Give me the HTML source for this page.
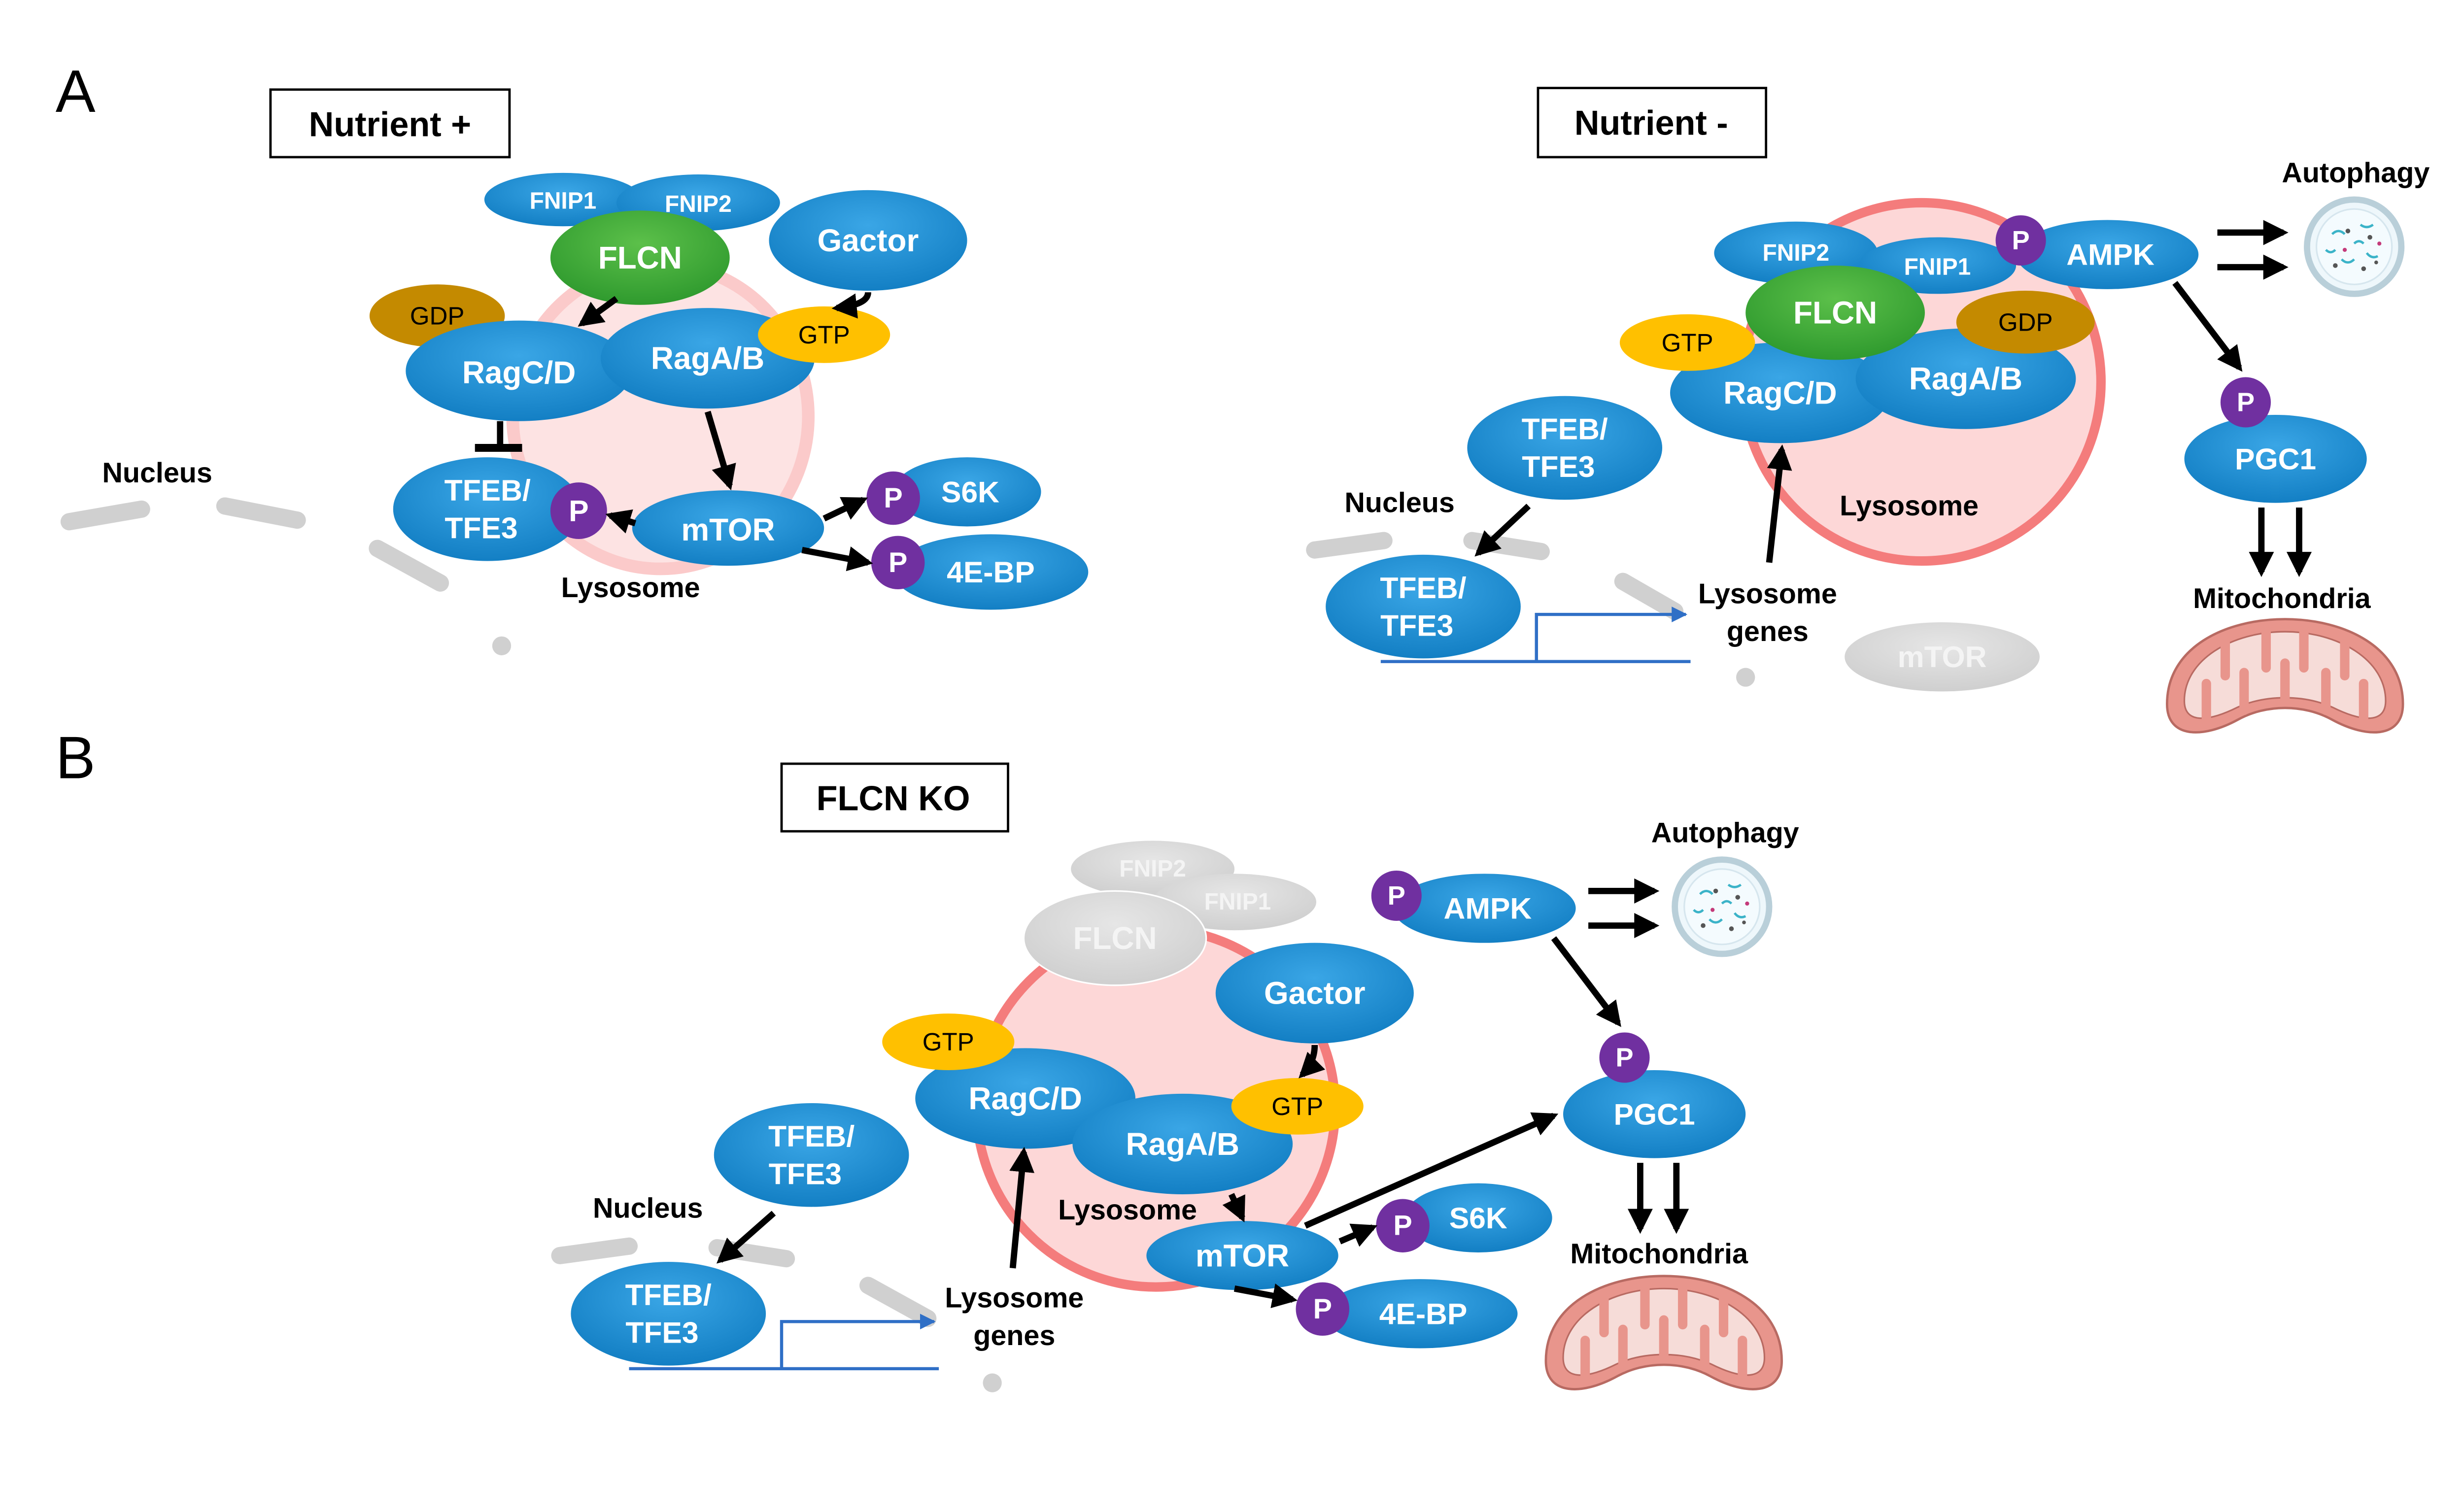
<!DOCTYPE html>
<html><head><meta charset="utf-8">
<style>
html,body{margin:0;padding:0;background:#fff;}
svg{display:block;}
text{font-family:"Liberation Sans",Arial,sans-serif;font-weight:bold;}
.w{fill:#fff;text-anchor:middle;dominant-baseline:central;}
.k{fill:#000;text-anchor:middle;dominant-baseline:central;}
.g{fill:#f4f4f4;text-anchor:middle;dominant-baseline:central;}
.arr{stroke:#000;stroke-width:4;fill:none;marker-end:url(#ah);}
.nuc{stroke:#d0d0d0;stroke-width:11;stroke-linecap:round;fill:none;}
.gene{stroke:#2f6fc6;stroke-width:2;fill:none;}
</style></head><body>
<svg width="5192" height="3014" viewBox="0 0 1627 945" preserveAspectRatio="none" xmlns="http://www.w3.org/2000/svg">
<defs>
<radialGradient id="bl" cx="50%" cy="35%" r="65%">
<stop offset="0" stop-color="#3aa6e6"/><stop offset="1" stop-color="#137fc4"/></radialGradient>
<radialGradient id="gr" cx="50%" cy="35%" r="65%">
<stop offset="0" stop-color="#5cc04a"/><stop offset="1" stop-color="#2f9a2e"/></radialGradient>
<radialGradient id="gy" cx="50%" cy="35%" r="65%">
<stop offset="0" stop-color="#e6e6e6"/><stop offset="1" stop-color="#cfcfcf"/></radialGradient>
<marker id="ah" viewBox="0 0 10 10" refX="8" refY="5" markerWidth="4" markerHeight="4" orient="auto">
<path d="M0,0 L10,5 L0,10 Z" fill="#000"/></marker>
<marker id="bh" viewBox="0 0 10 10" refX="9" refY="5" markerWidth="5" markerHeight="5" orient="auto">
<path d="M0,0 L10,5 L0,10 Z" fill="#2f6fc6"/></marker>
<g id="mito">
<path d="M-75,18 C-75,-18 -38,-36 0,-36 C38,-36 75,-18 75,18 C75,40 52,40 30,28 C12,18 -12,18 -30,28 C-52,40 -75,40 -75,18 Z" fill="#e8958c" stroke="#b86a62" stroke-width="1.5"/>
<path d="M-64,16 C-64,-10 -34,-28 0,-28 C34,-28 64,-10 64,16 C64,30 50,30 30,20 C12,12 -12,12 -30,20 C-50,30 -64,30 -64,16 Z" fill="#f6dcd8" stroke="#b86a62" stroke-width="1"/>
<g stroke="#e8958c" stroke-width="6" stroke-linecap="round">
<line x1="-50" y1="28" x2="-50" y2="5"/><line x1="-38" y1="-22" x2="-38" y2="0"/>
<line x1="-26" y1="22" x2="-26" y2="-2"/><line x1="-12" y1="-28" x2="-12" y2="-5"/>
<line x1="0" y1="16" x2="0" y2="-8"/><line x1="12" y1="-28" x2="12" y2="-5"/>
<line x1="26" y1="22" x2="26" y2="-2"/><line x1="38" y1="-22" x2="38" y2="0"/>
<line x1="50" y1="28" x2="50" y2="5"/>
</g></g>
<g id="auto">
<circle r="30" fill="#eef7fb" stroke="#b9cfd9" stroke-width="4"/>
<circle r="24" fill="#f4fbfe" stroke="#d6e6ee" stroke-width="1"/>
<g stroke="#3bb3c8" stroke-width="1.5" fill="none">
<path d="M-14,-8 q4,-4 8,0"/><path d="M4,-14 q4,3 8,0"/><path d="M-8,8 q4,4 8,0"/><path d="M8,4 q3,4 7,2"/><path d="M-18,2 q3,3 6,0"/><path d="M0,-2 q3,-3 6,0"/></g>
<g fill="#555"><circle cx="-4" cy="-10" r="1.5"/><circle cx="10" cy="-6" r="1.5"/><circle cx="-12" cy="12" r="1.5"/><circle cx="6" cy="14" r="1.5"/><circle cx="14" cy="10" r="1.2"/></g>
<g fill="#c43a7a"><circle cx="-6" cy="2" r="1.3"/><circle cx="16" cy="-2" r="1.3"/></g>
</g>
</defs>

<!-- ===== Panel A left ===== -->
<text x="48" y="58" class="k" style="font-weight:normal" font-size="38">A</text>
<rect x="172" y="57" width="152" height="43" fill="#fff" stroke="#000" stroke-width="1.5"/>
<text x="248" y="79" class="k" font-size="22">Nutrient +</text>

<ellipse cx="420" cy="265" rx="94" ry="97" fill="#fde3e3" stroke="#fbcaca" stroke-width="8"/>
<path class="nuc" d="M44,332 L90,324 M143,322 L189,331 M240,349 L280,371"/>
<circle cx="319" cy="411" r="6" fill="#d0d0d0"/>
<text x="100" y="301" class="k" font-size="18">Nucleus</text>

<ellipse cx="358" cy="127" rx="50" ry="17" fill="url(#bl)"/><text x="358" y="128" class="w" font-size="15">FNIP1</text>
<ellipse cx="444" cy="129" rx="52" ry="18" fill="url(#bl)"/><text x="444" y="130" class="w" font-size="15">FNIP2</text>
<ellipse cx="407" cy="164" rx="57" ry="30" fill="url(#gr)"/><text x="407" y="164" class="w" font-size="20">FLCN</text>
<ellipse cx="552" cy="153" rx="63" ry="32" fill="url(#bl)"/><text x="552" y="153" class="w" font-size="20">Gactor</text>
<ellipse cx="278" cy="201" rx="43" ry="20" fill="#c48a00"/><text x="278" y="201" class="k" font-size="16" style="font-weight:normal">GDP</text>
<ellipse cx="330" cy="236" rx="72" ry="32" fill="url(#bl)"/><text x="330" y="237" class="w" font-size="20">RagC/D</text>
<ellipse cx="450" cy="228" rx="68" ry="32" fill="url(#bl)"/><text x="450" y="228" class="w" font-size="20">RagA/B</text>
<ellipse cx="524" cy="213" rx="42" ry="18" fill="#ffc000"/><text x="524" y="213" class="k" font-size="16" style="font-weight:normal">GTP</text>
<ellipse cx="310" cy="324" rx="60" ry="33" fill="url(#bl)"/><text x="310" y="312" class="w" font-size="19">TFEB/</text><text x="306" y="336" class="w" font-size="19">TFE3</text>
<circle cx="368" cy="325" r="18" fill="#7030a0"/><text x="368" y="325" class="w" font-size="19">P</text>
<ellipse cx="463" cy="336" rx="61" ry="24" fill="url(#bl)"/><text x="463" y="337" class="w" font-size="20">mTOR</text>
<ellipse cx="615" cy="313" rx="47" ry="22" fill="url(#bl)"/><text x="617" y="313" class="w" font-size="19">S6K</text>
<circle cx="568" cy="317" r="17" fill="#7030a0"/><text x="568" y="317" class="w" font-size="18">P</text>
<ellipse cx="630" cy="364" rx="62" ry="24" fill="url(#bl)"/><text x="630" y="364" class="w" font-size="19">4E-BP</text>
<circle cx="571" cy="358" r="17" fill="#7030a0"/><text x="571" y="358" class="w" font-size="18">P</text>
<text x="401" y="374" class="k" font-size="18">Lysosome</text>

<line class="arr" x1="392" y1="190" x2="370" y2="206"/>
<path class="arr" d="M552,186 Q552,194 532,196"/>
<line x1="318" y1="268" x2="318" y2="284" stroke="#000" stroke-width="4"/>
<line x1="302" y1="285" x2="332" y2="285" stroke="#000" stroke-width="5"/>
<line class="arr" x1="450" y1="262" x2="464" y2="309"/>
<line class="arr" x1="404" y1="333" x2="388" y2="328"/>
<line class="arr" x1="524" y1="330" x2="549" y2="318"/>
<line class="arr" x1="510" y1="350" x2="552" y2="358"/>

<!-- ===== Panel A right ===== -->
<rect x="978" y="56" width="145" height="44" fill="#fff" stroke="#000" stroke-width="1.5"/>
<text x="1050" y="78" class="k" font-size="22">Nutrient -</text>

<circle cx="1222" cy="243" r="114" fill="#fdd7d7" stroke="#f47c7c" stroke-width="6"/>
<path class="nuc" d="M836,350 L880,344 M936,344 L980,351 M1032,370 L1065,389"/>
<circle cx="1110" cy="431" r="6" fill="#d0d0d0"/>
<text x="890" y="320" class="k" font-size="18">Nucleus</text>

<ellipse cx="1142" cy="161" rx="52" ry="20" fill="url(#bl)"/><text x="1142" y="161" class="w" font-size="15">FNIP2</text>
<ellipse cx="1232" cy="169" rx="50" ry="18" fill="url(#bl)"/><text x="1232" y="170" class="w" font-size="15">FNIP1</text>
<ellipse cx="1340" cy="162" rx="58" ry="22" fill="url(#bl)"/><text x="1342" y="162" class="w" font-size="19">AMPK</text>
<circle cx="1285" cy="153" r="16" fill="#7030a0"/><text x="1285" y="153" class="w" font-size="17">P</text>
<ellipse cx="1132" cy="250" rx="70" ry="32" fill="url(#bl)"/><text x="1132" y="250" class="w" font-size="20">RagC/D</text>
<ellipse cx="1250" cy="241" rx="70" ry="32" fill="url(#bl)"/><text x="1250" y="241" class="w" font-size="20">RagA/B</text>
<ellipse cx="1167" cy="199" rx="57" ry="30" fill="url(#gr)"/><text x="1167" y="199" class="w" font-size="20">FLCN</text>
<ellipse cx="1073" cy="218" rx="43" ry="18" fill="#ffc000"/><text x="1073" y="218" class="k" font-size="16" style="font-weight:normal">GTP</text>
<ellipse cx="1288" cy="205" rx="44" ry="20" fill="#c48a00"/><text x="1288" y="205" class="k" font-size="16" style="font-weight:normal">GDP</text>
<text x="1214" y="322" class="k" font-size="18">Lysosome</text>

<ellipse cx="995" cy="285" rx="62" ry="33" fill="url(#bl)"/><text x="995" y="273" class="w" font-size="19">TFEB/</text><text x="991" y="297" class="w" font-size="19">TFE3</text>
<ellipse cx="905" cy="386" rx="62" ry="33" fill="url(#bl)"/><text x="905" y="374" class="w" font-size="19">TFEB/</text><text x="901" y="398" class="w" font-size="19">TFE3</text>
<path class="gene" d="M878,421 L1075,421 M977,421 L977,391 L1072,391" marker-end="url(#bh)"/>
<text x="1124" y="378" class="k" font-size="18">Lysosome</text><text x="1124" y="402" class="k" font-size="18">genes</text>
<ellipse cx="1235" cy="418" rx="62" ry="22" fill="url(#gy)"/><text x="1235" y="418" class="g" font-size="19">mTOR</text>

<line class="arr" x1="972" y1="322" x2="940" y2="352"/>
<line class="arr" x1="1125" y1="358" x2="1133" y2="286"/>
<line class="arr" x1="1410" y1="148" x2="1452" y2="148"/>
<line class="arr" x1="1410" y1="170" x2="1452" y2="170"/>
<line class="arr" x1="1383" y1="180" x2="1424" y2="234"/>
<text x="1498" y="110" class="k" font-size="18">Autophagy</text>
<use href="#auto" x="1497" y="157"/>
<ellipse cx="1447" cy="292" rx="58" ry="28" fill="url(#bl)"/><text x="1447" y="292" class="w" font-size="19">PGC1</text>
<circle cx="1428" cy="256" r="16" fill="#7030a0"/><text x="1428" y="256" class="w" font-size="17">P</text>
<line class="arr" x1="1438" y1="323" x2="1438" y2="364"/>
<line class="arr" x1="1462" y1="323" x2="1462" y2="364"/>
<text x="1451" y="381" class="k" font-size="18">Mitochondria</text>
<use href="#mito" x="1453" y="430"/>

<!-- ===== Panel B ===== -->
<text x="48" y="482" class="k" style="font-weight:normal" font-size="38">B</text>
<rect x="497" y="486" width="144" height="43" fill="#fff" stroke="#000" stroke-width="1.5"/>
<text x="568" y="508" class="k" font-size="22">FLCN KO</text>

<circle cx="735" cy="705" r="114" fill="#fdd7d7" stroke="#f47c7c" stroke-width="6"/>
<path class="nuc" d="M356,799 L400,793 M456,794 L500,801 M552,818 L590,839"/>
<circle cx="631" cy="880" r="6" fill="#d0d0d0"/>
<text x="412" y="769" class="k" font-size="18">Nucleus</text>

<ellipse cx="733" cy="553" rx="52" ry="18" fill="url(#gy)"/><text x="733" y="553" class="g" font-size="15">FNIP2</text>
<ellipse cx="785" cy="574" rx="52" ry="18" fill="url(#gy)"/><text x="787" y="574" class="g" font-size="15">FNIP1</text>
<ellipse cx="709" cy="597" rx="58" ry="30" fill="url(#gy)" stroke="#fff" stroke-width="1"/><text x="709" y="597" class="g" font-size="20">FLCN</text>
<ellipse cx="836" cy="632" rx="63" ry="32" fill="url(#bl)"/><text x="836" y="632" class="w" font-size="20">Gactor</text>
<ellipse cx="652" cy="699" rx="70" ry="32" fill="url(#bl)"/><text x="652" y="699" class="w" font-size="20">RagC/D</text>
<ellipse cx="603" cy="663" rx="42" ry="18" fill="#ffc000"/><text x="603" y="663" class="k" font-size="16" style="font-weight:normal">GTP</text>
<ellipse cx="752" cy="728" rx="70" ry="32" fill="url(#bl)"/><text x="752" y="728" class="w" font-size="20">RagA/B</text>
<ellipse cx="825" cy="704" rx="42" ry="18" fill="#ffc000"/><text x="825" y="704" class="k" font-size="16" style="font-weight:normal">GTP</text>
<text x="717" y="770" class="k" font-size="18">Lysosome</text>
<ellipse cx="790" cy="799" rx="61" ry="22" fill="url(#bl)"/><text x="790" y="799" class="w" font-size="20">mTOR</text>
<ellipse cx="940" cy="775" rx="47" ry="22" fill="url(#bl)"/><text x="940" y="775" class="w" font-size="19">S6K</text>
<circle cx="892" cy="780" r="17" fill="#7030a0"/><text x="892" y="780" class="w" font-size="18">P</text>
<ellipse cx="903" cy="836" rx="62" ry="22" fill="url(#bl)"/><text x="905" y="836" class="w" font-size="19">4E-BP</text>
<circle cx="841" cy="833" r="17" fill="#7030a0"/><text x="841" y="833" class="w" font-size="18">P</text>

<ellipse cx="516" cy="735" rx="62" ry="33" fill="url(#bl)"/><text x="516" y="723" class="w" font-size="19">TFEB/</text><text x="512" y="747" class="w" font-size="19">TFE3</text>
<ellipse cx="425" cy="836" rx="62" ry="33" fill="url(#bl)"/><text x="425" y="824" class="w" font-size="19">TFEB/</text><text x="421" y="848" class="w" font-size="19">TFE3</text>
<path class="gene" d="M400,871 L597,871 M497,871 L497,841 L594,841" marker-end="url(#bh)"/>
<text x="645" y="826" class="k" font-size="18">Lysosome</text><text x="645" y="850" class="k" font-size="18">genes</text>

<line class="arr" x1="492" y1="772" x2="458" y2="802"/>
<line class="arr" x1="644" y1="807" x2="651" y2="733"/>
<path class="arr" d="M836,665 Q836,676 828,684"/>
<line class="arr" x1="783" y1="760" x2="790" y2="775"/>
<line class="arr" x1="830" y1="780" x2="988" y2="710"/>
<line class="arr" x1="852" y1="790" x2="873" y2="781"/>
<line class="arr" x1="785" y1="820" x2="822" y2="827"/>

<ellipse cx="944" cy="578" rx="58" ry="22" fill="url(#bl)"/><text x="946" y="578" class="w" font-size="19">AMPK</text>
<circle cx="888" cy="570" r="16" fill="#7030a0"/><text x="888" y="570" class="w" font-size="17">P</text>
<line class="arr" x1="1010" y1="567" x2="1052" y2="567"/>
<line class="arr" x1="1010" y1="589" x2="1052" y2="589"/>
<line class="arr" x1="988" y1="597" x2="1029" y2="651"/>
<text x="1097" y="530" class="k" font-size="18">Autophagy</text>
<use href="#auto" x="1095" y="577"/>
<ellipse cx="1052" cy="709" rx="58" ry="28" fill="url(#bl)"/><text x="1052" y="709" class="w" font-size="19">PGC1</text>
<circle cx="1033" cy="673" r="16" fill="#7030a0"/><text x="1033" y="673" class="w" font-size="17">P</text>
<line class="arr" x1="1043" y1="740" x2="1043" y2="782"/>
<line class="arr" x1="1066" y1="740" x2="1066" y2="782"/>
<text x="1055" y="798" class="k" font-size="18">Mitochondria</text>
<use href="#mito" x="1058" y="848"/>
</svg>
</body></html>
